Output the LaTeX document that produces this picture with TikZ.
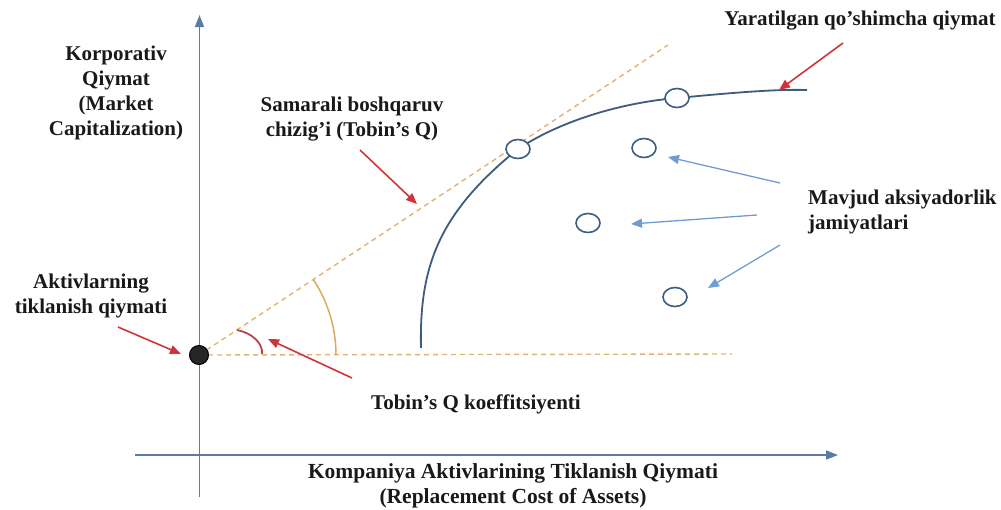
\documentclass[tikz,border=0pt]{standalone}
\usepackage{fontspec}
\setmainfont{Liberation Serif}
\usetikzlibrary{arrows.meta,shapes.geometric}
\definecolor{axisc}{HTML}{5B7BA0}
\definecolor{curvec}{HTML}{3E5C7C}
\definecolor{dashc}{HTML}{E2B272}
\definecolor{redc}{HTML}{D0343A}
\definecolor{bluec}{HTML}{6F9DD2}
\definecolor{arcred}{HTML}{B8444A}
\definecolor{arcorange}{HTML}{DDA860}
\tikzset{
  lbl/.style={font=\bfseries\fontsize{21}{25}\selectfont, text=black!90, align=center, inner sep=0pt},
  firm/.style={ellipse, draw=curvec, line width=1.6pt, fill=white, minimum width=24pt, minimum height=19pt, inner sep=0pt},
  axisline/.style={draw=axisc, line width=1.6pt, -{Triangle[length=12pt,width=9pt]}},
  redarrow/.style={draw=redc, line width=1.6pt, -{Triangle[length=11pt,width=9pt]}},
  bluearrow/.style={draw=bluec, line width=1.3pt, -{Triangle[length=11pt,width=9pt]}},
  guide/.style={draw=dashc, line width=1.4pt, dash pattern=on 5pt off 4pt},
}
\begin{document}
\begin{tikzpicture}[x=1pt,y=-1pt]
\useasboundingbox (0,0) rectangle (1001,509);
% axes
\coordinate (ybot) at (199.5,497);
\coordinate (ytop) at (199.5,15);
\coordinate (xleft) at (135,455);
\coordinate (xright) at (838,455);
\draw[axisline] (ybot) -- (ytop);
\draw[axisline] (xleft) -- (xright);
% dashed guides
\coordinate (hend) at (732,354);
\coordinate (dend) at (668,45);
\coordinate (o) at (199,355);
\draw[guide] (o) -- (hend);
\draw[guide] (o) -- (dend);
% angle arcs
\draw[arcorange, line width=1.5pt] (o) ++(-33.2:137) arc[start angle=-33.2, end angle=0, radius=137];
\draw[arcred, line width=1.8pt] (237,330) .. controls (252,333) and (263,343) .. (262,354);
% curve
\draw[curvec, line width=1.8pt] (421,348) .. controls (419,265) and (440,212) .. (518,149)
   .. controls (565,118) and (628,102) .. (677,98) .. controls (720,94) and (770,89) .. (807,90);
% dot
\node[circle, fill=black!85, draw=black, line width=1pt, minimum size=19pt, inner sep=0pt] (dot) at (o) {};
% firms
\node[firm] (c1) at (518,149) {};
\node[firm] (c2) at (677,98) {};
\node[firm] (c3) at (644,148) {};
\node[firm] (c4) at (588,223) {};
\node[firm] (c5) at (675,297) {};
% labels
\node[lbl] (ylab) at (116,93) {Korporativ\\Qiymat\\(Market\\Capitalization)};
\node[lbl] (samlab) at (352,119) {Samarali boshqaruv\\chizig’i (Tobin’s Q)};
\node[lbl] (aktlab) at (91,296) {Aktivlarning\\tiklanish qiymati};
\node[lbl] (toblab) at (476,404) {Tobin’s Q koeffitsiyenti};
\node[lbl] (yarlab) at (860,21) {Yaratilgan qo’shimcha qiymat};
\node[lbl, align=left, anchor=west] (mavlab) at (808,212) {Mavjud aksiyadorlik\\jamiyatlari};
\node[lbl, font=\bfseries\fontsize{21.5}{25}\selectfont] (xlab) at (513,486) {Kompaniya Aktivlarining Tiklanish Qiymati\\(Replacement Cost of Assets)};
% red arrows
\coordinate (r1s) at (843,43); \coordinate (r1e) at (779,90);
\coordinate (r2s) at (360,150); \coordinate (r2e) at (417,204);
\coordinate (r3s) at (118,327); \coordinate (r3e) at (181,354);
\coordinate (r4s) at (352,378); \coordinate (r4e) at (268,339);
\draw[redarrow] (r1s) -- (r1e);
\draw[redarrow] (r2s) -- (r2e);
\draw[redarrow] (r3s) -- (r3e);
\draw[redarrow] (r4s) -- (r4e);
% blue arrows
\coordinate (b1s) at (780,183); \coordinate (b1e) at (668,157);
\coordinate (b2s) at (757,215); \coordinate (b2e) at (631,224);
\coordinate (b3s) at (780,245); \coordinate (b3e) at (708,288);
\draw[bluearrow] (b1s) -- (b1e);
\draw[bluearrow] (b2s) -- (b2e);
\draw[bluearrow] (b3s) -- (b3e);
\end{tikzpicture}
\end{document}
